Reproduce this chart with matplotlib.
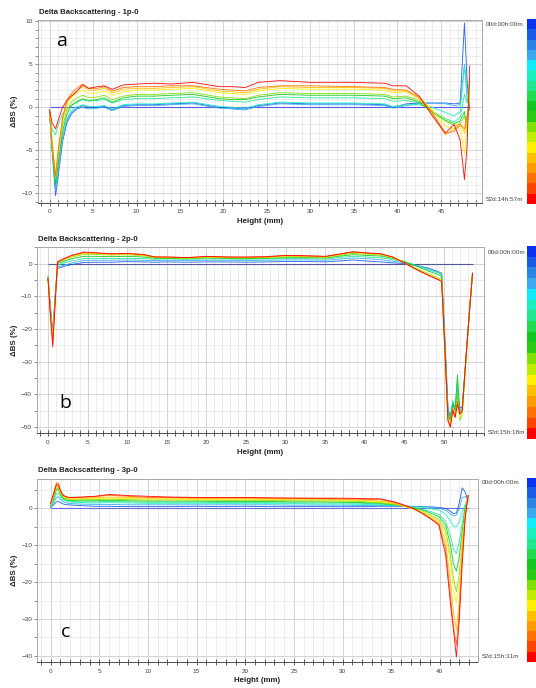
import numpy as np
import matplotlib
matplotlib.use('Agg')
import matplotlib.pyplot as plt
from matplotlib.colors import ListedColormap
from matplotlib.ticker import MultipleLocator

plt.rcParams['font.family'] = ['Liberation Sans', 'DejaVu Sans']

# time colour scale, first measurement (top) to last (bottom)
scale_colors = ['#0b32f0', '#1a5ae8', '#2a84e8', '#3aaaf0', '#10ecfa', '#18f0c0',
                '#20e890', '#20dc50', '#10c820', '#28cc10', '#80e000', '#c0ec00',
                '#fff000', '#ffc000', '#ff9a00', '#ff7000', '#ff4400', '#ff0000']

# ---- panel a : 1p-0 ----
xa = [0, 0.3, 0.7, 1.0, 1.5, 2.0, 2.5, 3.0, 3.8, 4.5, 5.5, 6.3, 7.2, 8.5, 10, 12, 14, 16.5,
      19.5, 21, 22.5, 24, 26.5, 30, 35, 38.5, 39.5, 41, 42.5, 44, 45.5, 46.5, 47.2, 47.7, 48.0, 48.3]
curves_a = [
    [-0.3, -5.0, -10.3, -8.0, -4.0, -1.8, -0.8, -0.3, 0.2, 0.0, 0.0, 0.1, -0.3, 0.2, 0.3, 0.3, 0.4, 0.5,
     0.0, -0.1, -0.2, 0.2, 0.5, 0.4, 0.4, 0.3, 0.0, 0.4, 0.5, 0.5, 0.5, 0.4, 0.5, 9.8, 3.0, -0.3],
    [-0.5, -4.5, -9.5, -7.5, -3.5, -1.5, -0.6, -0.2, 0.0, -0.2, -0.1, 0.0, -0.4, 0.1, 0.2, 0.2, 0.3, 0.4,
     -0.1, -0.2, -0.3, 0.1, 0.4, 0.3, 0.3, 0.2, -0.1, 0.2, 0.4, 0.5, 0.4, 0.2, 0.3, 5.0, 1.0, 0.5],
    [-0.4, -4.0, -9.0, -6.8, -3.2, -1.3, -0.4, 0.0, 0.3, 0.1, 0.1, 0.2, -0.2, 0.3, 0.4, 0.4, 0.5, 0.6,
     0.1, 0.0, -0.1, 0.3, 0.6, 0.5, 0.5, 0.4, 0.1, 0.3, 0.3, 0.0, -0.6, -1.0, -0.5, 4.8, 2.0, 1.5],
    [-0.5, -2.5, -3.2, -2.0, -0.8, -0.2, 0.2, 0.5, 0.9, 0.7, 0.8, 0.9, 0.5, 0.9, 1.0, 1.0, 1.1, 1.2,
     0.8, 0.7, 0.6, 0.9, 1.2, 1.1, 1.1, 1.0, 0.7, 0.8, 0.5, -0.5, -1.3, -1.7, -1.2, 1.5, 0.5, 2.0],
    [-0.4, -5.0, -9.0, -6.5, -2.8, -0.8, 0.2, 0.6, 1.0, 0.8, 0.9, 1.1, 0.6, 1.1, 1.3, 1.3, 1.4, 1.5,
     1.0, 0.9, 0.9, 1.2, 1.5, 1.4, 1.4, 1.3, 1.0, 1.1, 0.6, -0.6, -1.5, -1.9, -1.6, -0.5, -3.0, 3.5],
    [-0.5, -4.5, -8.2, -5.5, -2.2, -0.3, 0.6, 1.0, 1.4, 1.1, 1.2, 1.4, 0.9, 1.3, 1.5, 1.5, 1.6, 1.7,
     1.2, 1.1, 1.0, 1.4, 1.7, 1.6, 1.6, 1.5, 1.2, 1.3, 0.8, -0.4, -1.6, -2.1, -2.0, -1.0, -2.5, 3.0],
    [-0.6, -4.0, -7.8, -5.0, -1.5, 0.3, 1.1, 1.6, 2.0, 1.6, 1.7, 1.9, 1.4, 1.8, 2.0, 2.0, 2.1, 2.2,
     1.7, 1.6, 1.5, 1.9, 2.2, 2.1, 2.1, 2.0, 1.7, 1.8, 1.1, -0.3, -2.2, -2.5, -2.2, -5.5, -2.0, 2.0],
    [-0.5, -4.0, -8.2, -5.5, -1.5, 0.5, 1.3, 1.8, 2.4, 2.0, 2.0, 2.2, 1.7, 2.1, 2.2, 2.2, 2.3, 2.4,
     1.9, 1.8, 1.7, 2.1, 2.4, 2.3, 2.3, 2.2, 1.9, 1.9, 1.0, -0.8, -3.2, -2.5, -1.8, -3.0, -1.2, 1.0],
    [-0.6, -4.5, -8.0, -5.0, -1.2, 0.8, 1.6, 2.1, 2.7, 2.2, 2.2, 2.4, 1.9, 2.3, 2.4, 2.4, 2.5, 2.5,
     2.1, 2.0, 1.9, 2.3, 2.5, 2.5, 2.4, 2.3, 2.1, 2.0, 1.2, -0.6, -3.0, -2.8, -2.0, -2.5, -1.0, 0.0],
    [-0.3, -1.8, -2.5, -1.5, 0.0, 0.8, 1.3, 1.7, 2.6, 2.2, 2.4, 2.5, 2.1, 2.6, 2.7, 2.8, 2.7, 2.9,
     2.4, 2.4, 2.3, 2.9, 3.1, 2.9, 2.9, 2.8, 2.5, 2.5, 1.3, -1.0, -3.0, -2.0, -3.8, -8.4, -4.5, 4.8],
]

# ---- panel b : 2p-0 ----
xb = [0, 0.3, 0.6, 0.9, 1.2, 1.6, 2.0, 2.5, 3.0, 4.5, 6, 8, 10, 12, 13.5, 15, 17.5, 20, 22.5, 25,
      27.5, 30, 32.5, 35, 37, 38.5, 40, 42, 43.5, 45, 46.5, 48, 49.3, 49.7, 50.1, 50.5, 50.8, 51.1,
      51.4, 51.7, 52.0, 52.3, 52.8, 53.2, 53.6]
curves_b = [
    [-4.0, -13, -21, -10, -1.5, -1.2, -0.9, -0.6, -0.3, 0.3, 0.4, 0.4, 0.6, 0.5, 0.4, 0.5, 0.4, 0.5, 0.5, 0.4,
     0.5, 0.6, 0.6, 0.5, 0.8, 1.1, 0.8, 0.5, 0.2, 0.0, -0.6, -1.4, -2.5, -3.0, -22, -44, -47, -43,
     -44, -40, -44, -44, -28, -15, -3],
    [-4.2, -14, -22, -10.5, -1.0, -0.8, -0.5, -0.2, 0.2, 0.9, 1.0, 1.0, 1.1, 1.0, 0.9, 1.0, 0.9, 1.0, 1.0, 0.9,
     1.0, 1.1, 1.1, 1.0, 1.4, 1.7, 1.5, 1.2, 0.7, 0.3, -0.5, -1.6, -2.6, -3.2, -24, -45, -47, -42,
     -45, -38, -45, -44, -28, -15, -3],
    [-4.3, -14, -22, -11, -0.5, -0.2, 0.2, 0.5, 0.8, 1.5, 1.6, 1.5, 1.6, 1.5, 1.3, 1.4, 1.3, 1.4, 1.4, 1.3,
     1.4, 1.5, 1.5, 1.4, 1.9, 2.2, 2.0, 1.8, 1.2, 0.5, -0.6, -1.9, -2.9, -3.5, -24, -45, -48, -42,
     -44, -36, -46, -45, -28, -15, -3],
    [-4.4, -15, -23, -11, 0.0, 0.3, 0.7, 1.1, 1.5, 2.2, 2.2, 2.1, 2.2, 2.0, 1.6, 1.6, 1.5, 1.7, 1.6, 1.5,
     1.6, 1.8, 1.8, 1.7, 2.3, 2.7, 2.5, 2.3, 1.6, 0.6, -0.8, -2.3, -3.4, -4.0, -25, -46, -48, -43,
     -45, -34, -46, -45, -28, -15, -3],
    [-4.5, -15, -22, -11, 0.2, 0.6, 1.1, 1.6, 2.0, 2.8, 2.8, 2.6, 2.7, 2.4, 1.8, 1.8, 1.6, 1.9, 1.8, 1.7,
     1.8, 2.1, 2.1, 1.9, 2.6, 3.1, 2.9, 2.6, 1.8, 0.3, -1.5, -3.1, -4.4, -4.8, -26, -47, -48, -45,
     -46, -40, -48, -46, -29, -15, -3],
    [-4.5, -15, -23, -11.5, 0.3, 0.8, 1.3, 1.8, 2.2, 3.1, 3.0, 2.8, 2.9, 2.6, 1.9, 1.9, 1.7, 2.0, 1.9, 1.8,
     1.9, 2.3, 2.2, 2.0, 2.8, 3.4, 3.1, 2.8, 1.9, 0.1, -1.8, -3.4, -4.8, -5.2, -27, -48, -49, -45,
     -47, -43, -47, -46, -29, -15, -3],
    [-4.6, -15, -24, -12, 0.4, 0.9, 1.4, 1.9, 2.4, 3.3, 3.2, 2.9, 3.0, 2.7, 2.0, 2.0, 1.8, 2.1, 2.0, 1.9,
     2.0, 2.4, 2.3, 2.1, 2.9, 3.5, 3.2, 2.9, 2.0, 0.2, -1.8, -3.5, -4.9, -5.3, -27, -48, -50, -44,
     -47, -42, -46, -45, -28, -15, -3],
    [-4.6, -16, -25.5, -12, 0.5, 1.0, 1.5, 2.0, 2.5, 3.5, 3.3, 3.0, 3.1, 2.8, 2.0, 2.0, 1.8, 2.2, 2.0, 2.0,
     2.1, 2.5, 2.4, 2.2, 3.0, 3.6, 3.3, 3.0, 2.0, 0.2, -1.8, -3.6, -5.0, -5.5, -25, -48, -50, -45,
     -47, -43, -46, -45, -28, -15, -3],
]

# ---- panel c : 3p-0 ----
xc = [0, 0.3, 0.6, 0.8, 1.0, 1.3, 1.8, 3, 4.5, 6, 8, 10, 12.5, 15, 17.5, 20, 22.5, 25, 27.5, 30,
      32, 33.9, 35.5, 37.3, 38.3, 39.0, 39.9, 40.6, 41.1, 41.4, 41.7, 42.0, 42.3, 42.6, 42.9]
curves_c = [
    [0.3, 1.0, 1.8, 1.9, 1.6, 1.2, 1.0, 0.8, 0.6, 0.6, 0.5, 0.5, 0.5, 0.6, 0.5, 0.6, 0.5, 0.5, 0.5, 0.5,
     0.5, 0.6, 0.6, 0.5, 0.5, 0.4, 0.3, 0.0, -0.8, -1.4, -1.2, 1.5, 5.6, 4.5, 2.0],
    [0.5, 1.5, 3.0, 3.2, 2.5, 1.8, 1.4, 1.2, 1.1, 1.1, 1.0, 1.0, 1.0, 1.0, 1.0, 1.0, 1.0, 0.9, 0.9, 0.9,
     0.8, 0.8, 0.7, 0.6, 0.5, 0.4, 0.2, -0.5, -1.5, -2.0, -1.8, 0.0, 3.0, 3.2, 2.5],
    [0.6, 2.0, 4.0, 4.2, 3.2, 2.3, 1.8, 1.6, 1.5, 1.6, 1.5, 1.4, 1.4, 1.4, 1.4, 1.3, 1.3, 1.3, 1.2, 1.2,
     1.1, 1.0, 0.9, 0.5, 0.2, 0.0, -0.4, -1.5, -3.5, -4.8, -5.0, -3.5, -1.0, 1.0, 2.5],
    [0.7, 2.5, 5.0, 5.2, 3.8, 2.6, 2.0, 1.8, 1.8, 1.9, 1.8, 1.7, 1.7, 1.7, 1.6, 1.6, 1.6, 1.5, 1.5, 1.5,
     1.4, 1.2, 0.9, 0.3, -0.3, -0.8, -1.6, -3.5, -7.5, -11.0, -12.2, -9.0, -4.0, 0.5, 3.0],
    [0.8, 2.8, 5.2, 5.5, 4.0, 2.8, 2.2, 2.1, 2.1, 2.2, 2.1, 2.0, 2.0, 2.0, 1.9, 1.9, 1.9, 1.8, 1.8, 1.7,
     1.6, 1.4, 1.0, 0.2, -0.5, -1.2, -2.2, -4.5, -10, -15, -17, -13, -6, 0.0, 3.0],
    [0.9, 3.0, 5.5, 5.6, 4.2, 3.0, 2.4, 2.4, 2.4, 2.5, 2.4, 2.3, 2.3, 2.3, 2.2, 2.2, 2.2, 2.1, 2.1, 2.0,
     1.9, 1.6, 1.1, 0.0, -0.9, -1.8, -3.0, -6, -13, -19, -22.6, -18, -9, -1.0, 3.2],
    [1.0, 3.2, 5.8, 5.9, 4.4, 3.2, 2.6, 2.6, 2.7, 2.8, 2.7, 2.6, 2.5, 2.5, 2.5, 2.5, 2.4, 2.4, 2.3, 2.2,
     2.1, 1.8, 1.2, -0.2, -1.1, -2.0, -3.3, -7, -15, -22, -25.5, -21, -10, -1.5, 3.3],
    [1.2, 3.6, 6.2, 6.3, 4.7, 3.4, 2.8, 2.8, 2.9, 3.1, 3.0, 2.8, 2.8, 2.7, 2.7, 2.7, 2.6, 2.6, 2.5, 2.4,
     2.3, 2.0, 1.3, -0.2, -1.3, -2.4, -3.8, -9, -20, -28, -33, -25, -12, -2.0, 3.5],
    [1.3, 4.0, 7.0, 6.8, 5.0, 3.6, 3.0, 3.0, 3.2, 3.6, 3.3, 3.0, 3.0, 2.9, 2.9, 2.9, 2.8, 2.8, 2.7, 2.6,
     2.5, 2.4, 1.5, 0.0, -1.5, -2.7, -4.2, -11, -24, -32, -37, -28, -13, -2.0, 3.6],
    [1.5, 3.8, 6.5, 6.4, 4.8, 3.5, 3.0, 3.1, 3.3, 3.8, 3.5, 3.3, 3.1, 3.0, 3.0, 3.0, 2.9, 2.8, 2.8, 2.8,
     2.7, 2.6, 1.7, 0.0, -1.5, -2.7, -4.5, -12.7, -26, -33, -40.3, -30, -15, -3.0, 3.6],
]

titles = ['Delta Backscattering - 1p-0', 'Delta Backscattering - 2p-0', 'Delta Backscattering - 3p-0']
letters = ['a', 'b', 'c']
end_times = ['52d:14h:57m', '52d:15h:18m', '52d:15h:31m']
xticks = [range(0, 50, 5), range(0, 55, 5), range(0, 45, 5)]
yticks = [range(-10, 15, 5), range(-50, 10, 10), range(-40, 10, 10)]

W, H = 536, 688


def rect(l, t, r, b):
    return [l / W, 1 - b / H, (r - l) / W, (b - t) / H]


# layout in pixels: axes box, limits, grid steps, colour bar box
layout = [
    dict(box=(37.5, 20, 481.7, 202.5), xlim=(-1.38, 49.68), ylim=(-11.07, 10.15), ystep=1,
         cbar=(526.7, 19, 536, 204), tl=(486, 24.3, 199.3), letter=(61.5, 41), zc='#5a5ae0'),
    dict(box=(37, 247, 484, 433), xlim=(-1.39, 55.05), ylim=(-51.8, 5.05), ystep=5,
         cbar=(526.7, 246, 536, 438.7), tl=(488, 253, 432.5), letter=(65, 403), zc='#50589a'),
    dict(box=(37.3, 479, 477.5, 662), xlim=(-1.37, 43.87), ylim=(-41.65, 8.0), ystep=5,
         cbar=(526.7, 477.7, 536, 661.7), tl=(482, 482.7, 656.7), letter=(66, 632), zc='#6a6ad8'),
]

fig = plt.figure(figsize=(W / 100, H / 100), dpi=100)
data = [(xa, curves_a), (xb, curves_b), (xc, curves_c)]

for k, (x, curves) in enumerate(data):
    L = layout[k]
    ax = fig.add_axes(rect(*L['box']))
    ax.set_xlim(*L['xlim'])
    ax.set_ylim(*L['ylim'])
    ax.set_xticks(list(xticks[k]))
    ax.set_yticks(list(yticks[k]))
    ax.xaxis.set_minor_locator(MultipleLocator(1))
    ax.yaxis.set_minor_locator(MultipleLocator(L['ystep']))
    ax.grid(which='minor', color='#e4e4e4', lw=0.5)
    ax.grid(which='major', color='#cccccc', lw=0.6)
    ax.set_axisbelow(True)
    for s in ['left', 'top', 'right']:
        ax.spines[s].set_color('#a8a8a8')
        ax.spines[s].set_linewidth(0.7)
    ax.spines['bottom'].set_color('#505050')
    ax.spines['bottom'].set_linewidth(0.7)
    ax.tick_params(axis='x', which='both', direction='inout', length=4, width=0.6,
                   color='#404040', labelsize=4.6, labelcolor='#444444', pad=3)
    ax.tick_params(axis='y', which='both', direction='out', length=2, width=0.5,
                   color='#606060', labelsize=4.6, labelcolor='#444444', pad=1.5)

    # first measurement is the zero reference
    ax.hlines(0, x[0], x[-1], color=L['zc'], lw=0.8, zorder=2)
    n = len(curves)
    for i, y in enumerate(curves):
        c = scale_colors[1 + round(i * (len(scale_colors) - 2) / (n - 1))]
        ax.plot(x, y, color=c, lw=0.65, alpha=0.9, zorder=3 + i)

    l, t, r, b = L['box']
    fig.text(l / W + 0.002, 1 - (t - 8) / H, titles[k], fontsize=5.6, fontweight='bold',
             ha='left', va='center', color='#222222')
    fig.text((l + r) / 2 / W, 1 - (b + 19) / H, 'Height (mm)', fontsize=5.7, fontweight='bold',
             ha='center', va='center', color='#222222')
    fig.text(14 / W, 1 - (t + b) / 2 / H, 'ΔBS (%)', fontsize=5.7, fontweight='bold',
             rotation=90, ha='center', va='center', color='#222222')
    lx, ly = L['letter']
    fig.text(lx / W, 1 - ly / H, letters[k], fontsize=14, family=['Open Sans', 'DejaVu Sans'],
             ha='center', va='center', color='black')

    tx, ty0, ty1 = L['tl']
    fig.text(tx / W, 1 - ty0 / H, '00d:00h:00m', fontsize=4.6, color='#444444', ha='left', va='center')
    fig.text(tx / W, 1 - ty1 / H, end_times[k], fontsize=4.6, color='#444444', ha='left', va='center')

    cax = fig.add_axes(rect(*L['cbar']))
    cax.imshow(np.arange(len(scale_colors)).reshape(-1, 1), cmap=ListedColormap(scale_colors),
               aspect='auto', interpolation='nearest')
    cax.axis('off')

fig.savefig('out.png', dpi=100, facecolor='white')
